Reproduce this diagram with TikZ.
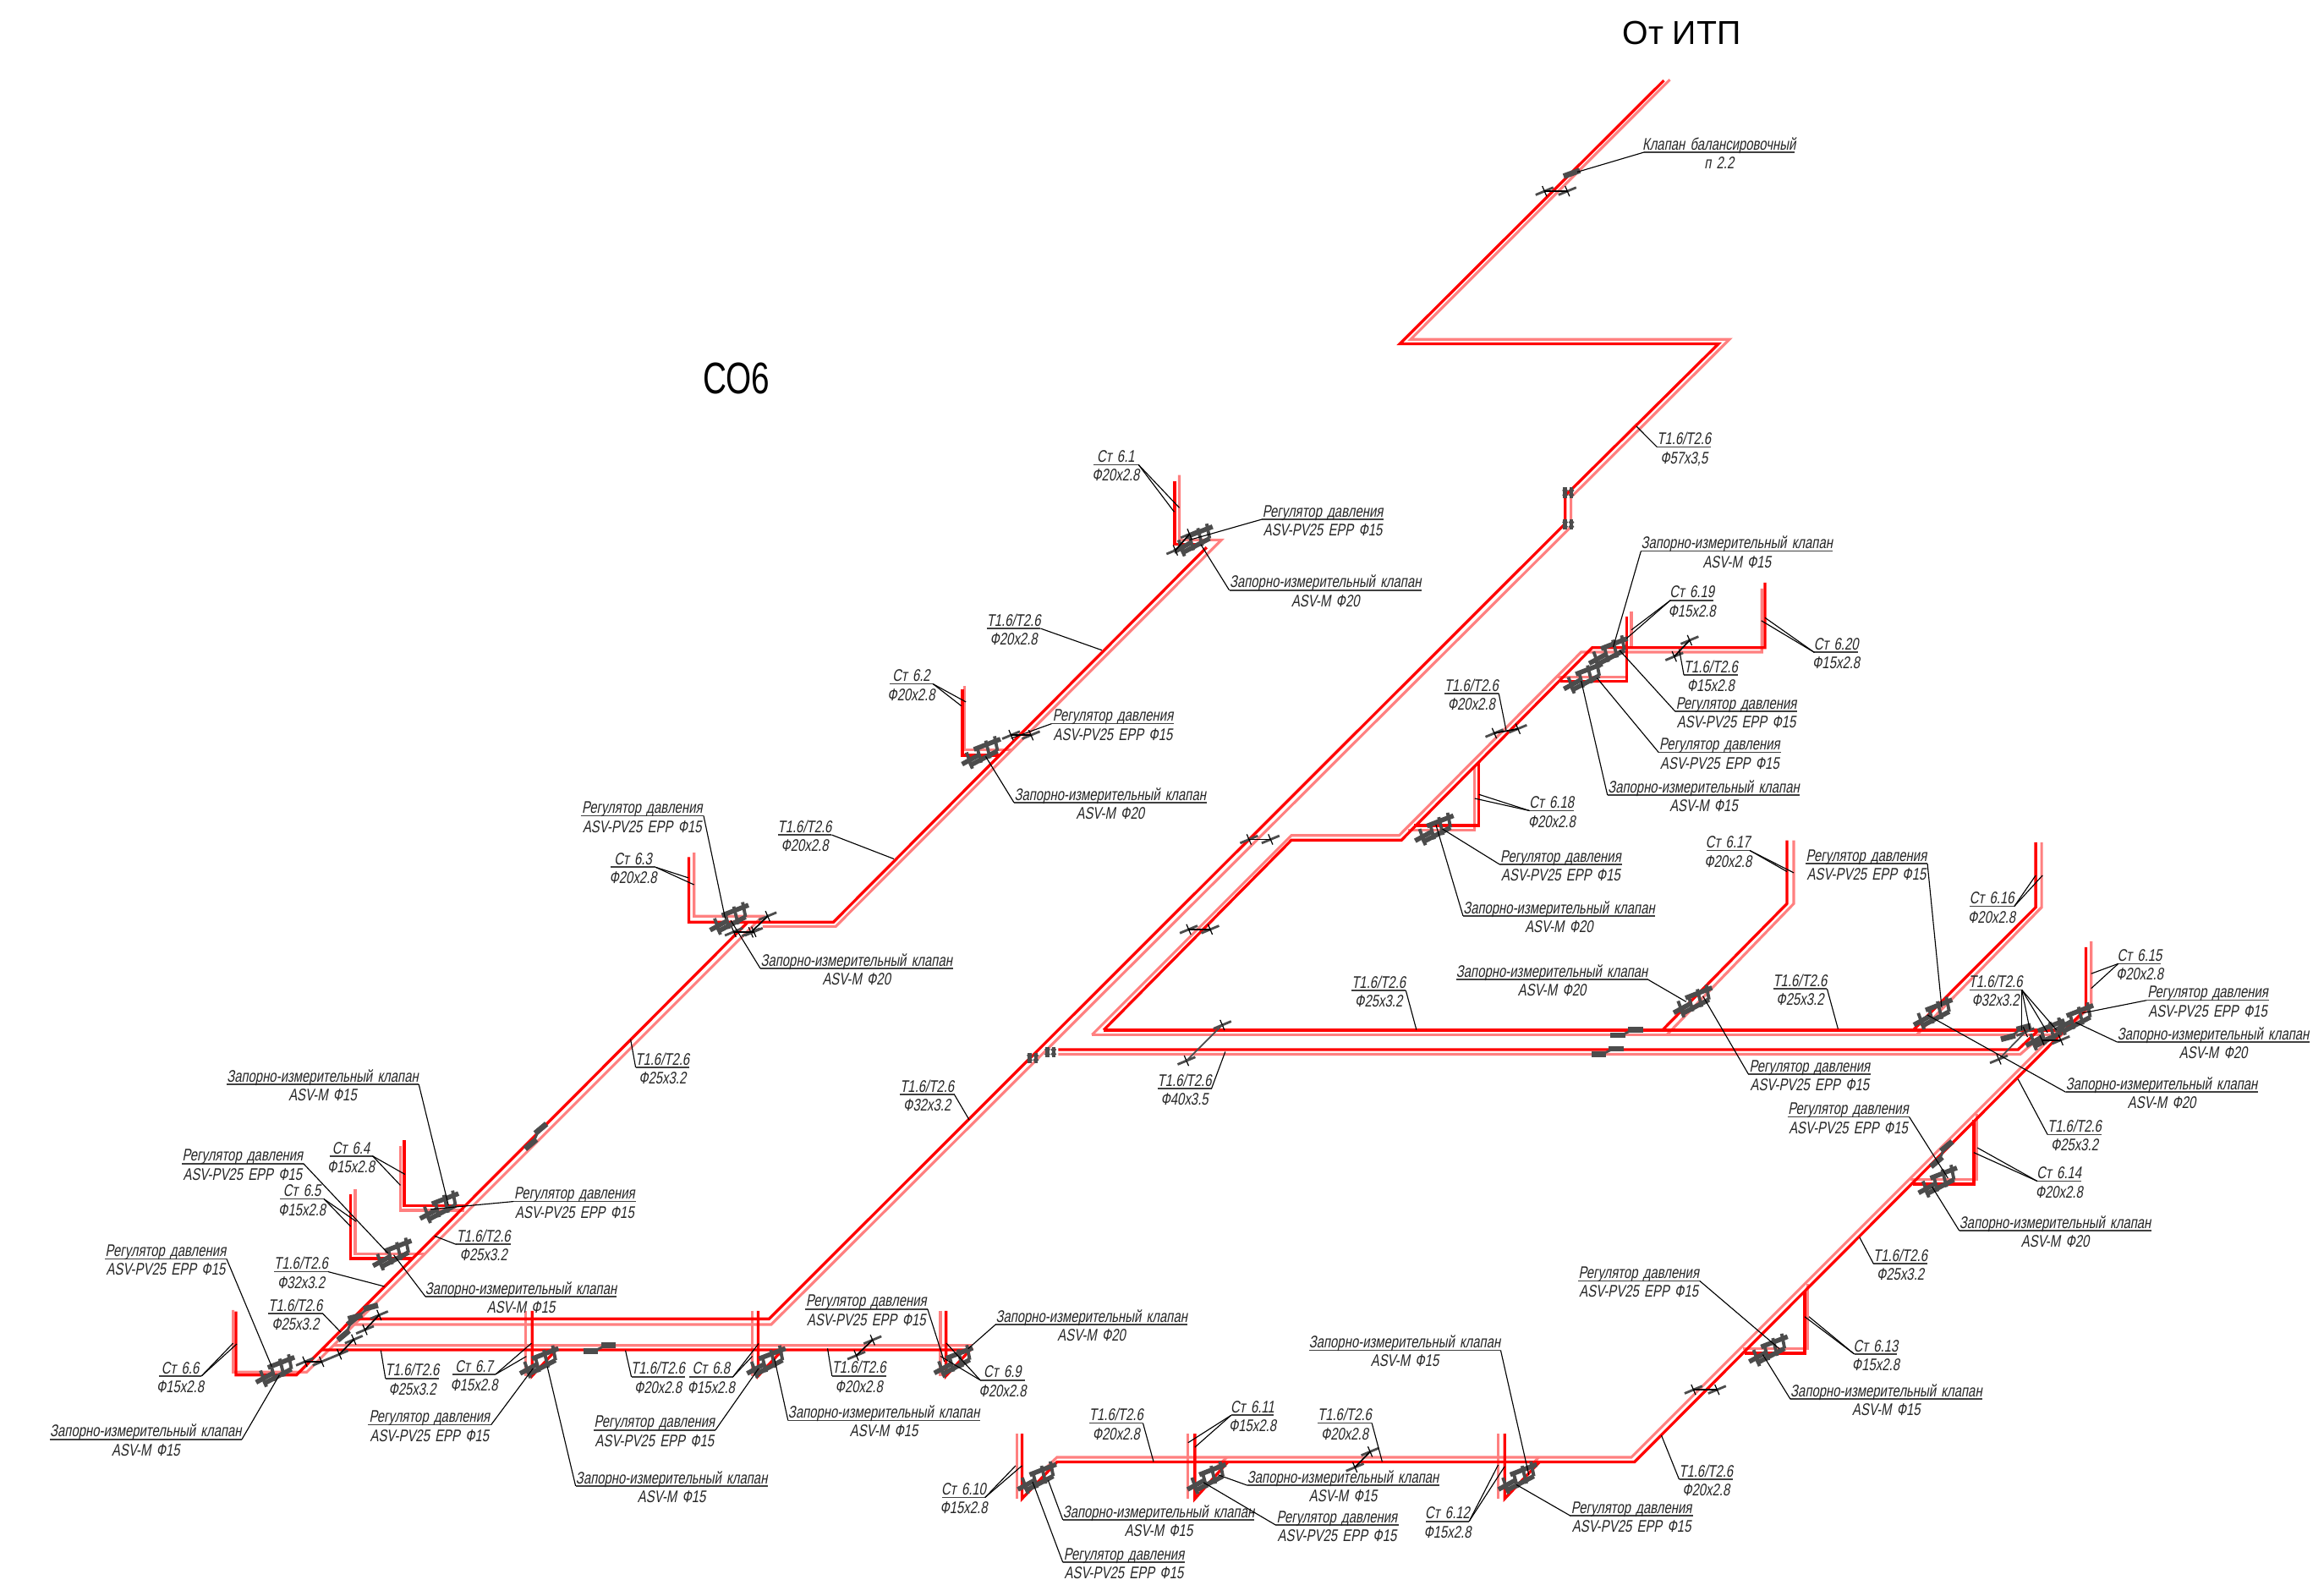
\documentclass[tikz,border=0pt]{standalone}
\usepackage{fontspec}
\setmainfont{Liberation Sans}
\newfontfamily\gostf[FakeSlant=0.18,FakeStretch=0.75,WordSpace=1.5]{Liberation Sans}
\newfontfamily\titlea[FakeStretch=1.0]{Liberation Sans}
\newfontfamily\titleb[FakeStretch=0.74]{Liberation Sans}
\definecolor{pipered}{HTML}{FF0000}
\definecolor{pipepink}{HTML}{FF8080}
\definecolor{valvegray}{HTML}{4C4C4C}
\tikzset{
  redpipe/.style={draw=pipered,line width=1.9pt,line join=miter},
  pinkpipe/.style={draw=pipepink,line width=1.8pt,line join=miter},
  lead/.style={draw=black,line width=0.65pt},
  rulenode/.style={inner sep=0pt,outer sep=0pt,minimum height=0pt},
  labeltext/.style={inner sep=0pt,anchor=base,font=\gostf\fontsize{11.4}{12}\selectfont,text=black!85},
  vg/.style={draw=valvegray,line width=3.2pt},
  vgt/.style={draw=valvegray,line width=2.2pt},
}
\newcommand{\txRD}{Регулятор давления}
\newcommand{\txRV}{ASV-PV25 EPP Ф15}
\newcommand{\txZK}{Запорно-измерительный клапан}
\newcommand{\txTT}{T1.6/T2.6}
% name, xl, xr, y, top, bottom
\newcommand{\LB}[6]{%
  \pgfmathsetmacro{\lbw}{#3-#2}\pgfmathsetmacro{\lbc}{(#2+#3)/2}\pgfmathsetmacro{\lby}{#4+1}%
  \node[rulenode,minimum width=\lbw pt] (#1) at (\lbc,\lby) {};
  \draw[lead,line width=0.95pt,black!75] (#1.west) -- (#1.east);
  \node[labeltext] (#1-t) at ([yshift=1.6pt]#1.center) {#5};
  \node[labeltext] (#1-b) at ([yshift=-11.2pt]#1.center) {#6};
}
\newcommand{\LD}[3]{\coordinate (ldend) at (#2,#3); \draw[lead] (#1) -- (ldend);}
% cluster valve
\newcommand{\VC}[3][0]{\begin{scope}[shift={(#2,#3)},rotate=#1]
  \draw[vg] (-14,8)--(-3,2);\draw[vg] (-6,-2)--(12,-9);\draw[vg] (-9,9)--(10,-1);
  \draw[vgt] (-11,0)--(-7,11);\draw[vgt] (-4,-4)--(-1,7);\draw[vgt] (2,-8)--(5,4);\draw[vgt] (8,-11)--(10,-1);
\end{scope}}
% bar valve
\newcommand{\VB}[3][0]{\begin{scope}[shift={(#2,#3)},rotate=#1]
  \draw[draw=valvegray,line width=3.8pt] (-11,2.2)--(-1,2.2);\draw[draw=valvegray,line width=3.8pt] (1,-1.5)--(11,-1.5);
  \draw[draw=valvegray,line width=1.6pt] (-3,2)--(3,-1);
\end{scope}}
% flange pair
\newcommand{\FL}[2]{\begin{scope}[shift={(#1,#2)}]
  \draw[draw=valvegray,line width=2.6pt] (-2,-3.5)--(-2,3.5);\draw[draw=valvegray,line width=2.6pt] (2.2,-3.5)--(2.2,3.5);
  \draw[draw=valvegray,line width=1.2pt] (-3.5,-2)--(-.5,2);\draw[draw=valvegray,line width=1.2pt] (-.5,-2)--(-3.5,2);
  \draw[draw=valvegray,line width=1.2pt] (.7,-2)--(3.7,2);\draw[draw=valvegray,line width=1.2pt] (3.7,-2)--(.7,2);
\end{scope}}
% cross mark: ax ay bx by linkcolor
\newcommand{\XM}[5][black]{%
  \draw[draw=valvegray,line width=1.6pt] (#2-6,#3+2.5)--(#2+6,#3-2.5);
  \draw[draw=valvegray,line width=1.6pt] (#4-6,#5+2.5)--(#4+6,#5-2.5);
  \draw[black,line width=.7pt] (#2-1.5,#3-3.5)--(#2+1.5,#3+3.5);
  \draw[black,line width=.7pt] (#4-1.5,#5-3.5)--(#4+1.5,#5+3.5);
  \draw[draw=#1,line width=1pt] (#2,#3)--(#4,#5);
}
\begin{document}
\begin{tikzpicture}[x=1pt,y=-1pt]
\useasboundingbox (0,0) rectangle (1568,1081.8);
\fill[white] (0,0) rectangle (1568,1081.8);

% ---------- pink pipes
\draw[pinkpipe] (1132,54) -- (956.3,230) -- (1172.4,230) -- (1065,337) -- (1065,357) -- (522.8,897.8) -- (240,897.8);
\draw[pinkpipe] (158,888) -- (158,930) -- (208,930) -- (517,621) -- (470.5,621) -- (470.5,578);
\draw[pinkpipe] (517,628) -- (566.5,628) -- (828,366) -- (799.5,366) -- (799.5,322);
\draw[pinkpipe] (654,465) -- (654,508) -- (686,508);
\draw[pinkpipe] (271.4,777) -- (271.4,820.4) -- (315,820.4);
\draw[pinkpipe] (240.8,806) -- (240.8,850) -- (288,850);
\draw[pinkpipe] (226,912) -- (657.7,912) -- (653,917);
\draw[pinkpipe] (356.5,888.6) -- (356.5,932.6);
\draw[pinkpipe] (377,912) -- (373,916);
\draw[pinkpipe] (510,888.6) -- (510,932.6);
\draw[pinkpipe] (531.6,912) -- (528,916);
\draw[pinkpipe] (637.5,888.6) -- (637.5,932.6);
\draw[pinkpipe] (689.2,971.8) -- (689.2,1015.9);
\draw[pinkpipe] (707,997) -- (716.5,987.8) -- (1105.9,987.8) -- (1394,699.7);
\draw[pinkpipe] (805.4,971.8) -- (805.4,1015.9);
\draw[pinkpipe] (831.7,987.8) -- (822,997);
\draw[pinkpipe] (1015.6,971.8) -- (1015.6,1015.9);
\draw[pinkpipe] (1043,987.8) -- (1035,997);
\draw[pinkpipe] (1225.6,870) -- (1225.6,914.2) -- (1181.5,914.2);
\draw[pinkpipe] (1340,755) -- (1340,799.6) -- (1295,799.6);
\draw[pinkpipe] (1417.6,638) -- (1417.6,681.6) -- (1396,703);
\draw[pinkpipe] (740.3,701.4) -- (875.4,566.3) -- (948.5,566.3) -- (1071.9,442) -- (1194.3,442) -- (1194.3,399);
\draw[pinkpipe] (740.3,701.4) -- (1392,701.4);
\draw[pinkpipe] (717.4,714.6) -- (1369.6,714.6) -- (1384,702);
\draw[pinkpipe] (954.4,562.8) -- (999.7,562.8) -- (999.7,519.8);
\draw[pinkpipe] (1105.9,414.3) -- (1105.9,439);
\draw[pinkpipe] (1056,459) -- (1102.7,459);
\draw[pinkpipe] (1216,569.6) -- (1216,612.5) -- (1130,701.4);
\draw[pinkpipe] (1384,571) -- (1384,615) -- (1299.4,701.4);

% ---------- red pipes
\draw[redpipe] (1128,54.5) -- (949,233) -- (1165,233) -- (1061,336) -- (1061,355) -- (521.3,894) -- (241,894);
\draw[redpipe] (160,889) -- (160,932) -- (201,932) -- (507,625);
\draw[redpipe] (467,581) -- (467,625) -- (565,625) -- (818,371);
\draw[redpipe] (796.4,326) -- (796.4,369) -- (815,369);
\draw[redpipe] (652.5,467.5) -- (652.5,512) -- (677,512);
\draw[redpipe] (274,773) -- (274,817.3) -- (316,817.3);
\draw[redpipe] (237.7,809.4) -- (237.7,853) -- (280,853);
\draw[redpipe] (218,915) -- (657.7,915) -- (641.3,932.6) -- (641.3,888.6);
\draw[redpipe] (360.7,888.6) -- (360.7,932.6) -- (377,915);
\draw[redpipe] (514,888.6) -- (514,932.6) -- (530.5,915);
\draw[redpipe] (692.8,971.8) -- (692.8,1015.9) -- (716.5,991) -- (1108,991) -- (1414,684) -- (1414,642);
\draw[redpipe] (810,971.8) -- (810,1015.9) -- (832.3,991);
\draw[redpipe] (1020,971.8) -- (1020,1015.9) -- (1043.6,991);
\draw[redpipe] (1223.4,874.7) -- (1223.4,917.2) -- (1183,917.2);
\draw[redpipe] (1338,759) -- (1338,802.6) -- (1297,802.6);
\draw[redpipe] (748.2,698.2) -- (875.4,569.5) -- (950,569.5) -- (1079.4,439) -- (1196.5,439) -- (1196.5,395);
\draw[redpipe] (748.2,698.2) -- (1400,698.2);
\draw[redpipe] (717.4,711.5) -- (1368,711.5) -- (1382,698.2);
\draw[redpipe] (958.7,559.6) -- (1002.6,559.6) -- (1002.6,517);
\draw[redpipe] (1102.7,418) -- (1102.7,461.6) -- (1058,461.6);
\draw[redpipe] (1211.4,569.6) -- (1211.4,612.5) -- (1127,698.2);
\draw[redpipe] (1380,571) -- (1380,615) -- (1297,698.2);

% ---------- valves
\VC{187.6}{929} \VC{266.9}{850} \VC{298.8}{818}
\VC{366.6}{923} \VC{520.5}{923} \VC{647.4}{922.7}
\VC{704}{1001.6} \VC{819}{1001.6} \VC{1029.8}{1001.6}
\VC{1199.8}{915} \VC{1314.6}{800.6} \VC{1407}{690.5}
\VC{1311.4}{686.7} \VC{1148.6}{678.5} \VC{1091.3}{441.7}
\VC{1074.2}{459} \VC{973.3}{561.9} \VC{810}{366}
\VC{666.2}{510} \VC{495.4}{622.5} \VC{1387.5}{700.8}
\VB{1102.7}{699.5} \VB{1089.7}{712.3} \VB{406.5}{913.5}
\VB[40]{363}{770} \VB[40]{1316}{782} \VB[15]{1366.5}{699.5}
\VB[40]{236}{899.6} \VB[15]{246}{889}
\draw[draw=valvegray,line width=3.8pt] (1060,119.5) -- (1071,115.5);
\FL{1063}{334} \FL{1063}{355.5} \FL{700}{717} \FL{712}{713}

% ---------- cross marks
\XM{1047}{129.6}{1062.5}{129.6}
\XM{846.7}{569}{861.3}{569}
\XM{805.8}{630}{820.4}{630}
\XM[valvegray]{828.6}{694.8}{804.3}{719}
\XM{1145.4}{434}{1135}{445}
\XM{1013}{497}{1029}{494}
\XM{1148}{942}{1164}{942}
\XM{591.5}{908.3}{580.5}{918.8}
\XM{928.8}{984}{918.5}{994.6}
\XM{257}{891.4}{247.4}{901.4}
\XM{239.8}{908}{230}{918}
\XM{206.7}{923}{218}{923}
\XM{520.4}{621}{509}{632}
\XM{497.4}{631.6}{511}{631.6}
\XM{685.4}{498.3}{698.9}{498.3}
\XM{796.8}{373}{806.4}{362}
\XM{1384.2}{705}{1397}{705}
\XM[valvegray]{1373}{699.5}{1355}{718}

% ---------- labels and leaders
\LB{a1}{153.6}{283.9}{734}{\txZK}{ASV-M Ф15} \LD{a1.east}{304}{817}
\LB{a2}{123.3}{205.7}{787.7}{\txRD}{\txRV} \LD{a2.east}{263}{849.5}
\LB{a3}{223.4}{252.6}{782.6}{Ст 6.4}{Ф15x2.8} \LD{a3.east}{274.5}{796} \LD{a3.east}{271.4}{803.4}
\LB{a4}{190}{219.6}{811.7}{Ст 6.5}{Ф15x2.8} \LD{a4.east}{241.5}{828} \LD{a4.east}{237.7}{831.3}
\LB{a5}{348.2}{430.9}{813.4}{\txRD}{\txRV} \LD{a5.west}{291.9}{819.7}
\LB{a6}{309.2}{346.4}{842.5}{\txTT}{Ф25x3.2} \LD{a6.west}{294.6}{837.8}
\LB{a7}{185.9}{222.4}{861}{\txTT}{Ф32x3.2} \LD{a7.east}{260.6}{872}
\LB{a8}{288.4}{418}{877.9}{\txZK}{ASV-M Ф15} \LD{a8.west}{266.9}{850.6}
\LB{a9}{181.7}{218.9}{889.5}{\txTT}{Ф25x3.2} \LD{a9.east}{231}{903}
\LB{a10}{71.2}{153.6}{852.3}{\txRD}{\txRV} \LD{a10.east}{184.2}{926.3}
\LB{a11}{107.7}{136.6}{931.7}{Ст 6.6}{Ф15x2.8} \LD{a11.east}{158}{910.5} \LD{a11.east}{160.5}{911}
\LB{a12}{33.7}{164}{974.6}{\txZK}{ASV-M Ф15} \LD{a12.east}{189.4}{932}
\LB{a13}{261.3}{297.8}{933.3}{\txTT}{Ф25x3.2} \LD{a13.west}{258.2}{915.4}
\LB{a14}{306.8}{336}{930.5}{Ст 6.7}{Ф15x2.8} \LD{a14.east}{360.3}{910.5} \LD{a14.east}{356.8}{919.4}
\LB{a15}{249.5}{332.9}{964.8}{\txRD}{\txRV} \LD{a15.east}{361.4}{927.5}
\LB{a16}{428}{464.2}{932.2}{\txTT}{Ф20x2.8} \LD{a16.west}{424}{915.4}
\LB{a17}{467.3}{496.9}{932.2}{Ст 6.8}{Ф15x2.8} \LD{a17.east}{514.3}{910.7} \LD{a17.east}{510}{919.3}
\LB{a18}{402.4}{485}{968.3}{\txRD}{\txRV} \LD{a18.east}{514.3}{927.5}
\LB{a19}{390.2}{520.5}{1006.2}{\txZK}{ASV-M Ф15} \LD{a19.west}{371}{926.3}
\LB{a20}{534.2}{664.3}{961.8}{\txZK}{ASV-M Ф15} \LD{a20.west}{525}{921}
\LB{a21}{545.8}{628.8}{886.3}{\txRD}{\txRV} \LD{a21.east}{640.2}{923}
\LB{a22}{564}{600.7}{931.6}{\txTT}{Ф20x2.8} \LD{a22.west}{561}{914}
\LB{a23}{664.5}{694.8}{934.5}{Ст 6.9}{Ф20x2.8} \LD{a23.west}{641.5}{910.4} \LD{a23.west}{637.5}{919.3}
\LB{a24}{675}{805}{896.7}{\txZK}{ASV-M Ф20} \LD{a24.west}{656.3}{914.2}
\LB{a25}{638.9}{667.8}{1014}{Ст 6.10}{Ф15x2.8} \LD{a25.east}{692.8}{993.5} \LD{a25.east}{688.5}{993.5}
\LB{a26}{720.5}{850.4}{1029.2}{\txZK}{ASV-M Ф15} \LD{a26.west}{710.6}{1003.5}
\LB{a27}{720.5}{803.4}{1058}{\txRD}{\txRV} \LD{a27.west}{700}{1004.5}
\LB{a28}{738.6}{774.8}{963.6}{\txTT}{Ф20x2.8} \LD{a28.east}{782}{990.8}
\LB{a29}{834.6}{863.6}{958.3}{Ст 6.11}{Ф15x2.8} \LD{a29.west}{805.4}{977.9} \LD{a29.west}{810}{981}
\LB{a30}{893.2}{930}{963.6}{\txTT}{Ф20x2.8} \LD{a30.east}{937}{990.8}
\LB{a31}{845.5}{975.5}{1005.8}{\txZK}{ASV-M Ф15} \LD{a31.west}{825.8}{999.7}
\LB{a32}{864.6}{948.2}{1032.6}{\txRD}{\txRV} \LD{a32.west}{815.9}{1004.9}
\LB{a33}{966.6}{995.9}{1030.2}{Ст 6.12}{Ф15x2.8} \LD{a33.east}{1015.6}{993} \LD{a33.east}{1020}{994}
\LB{a34}{887.3}{1017.3}{914.2}{\txZK}{ASV-M Ф15} \LD{a34.east}{1036.4}{999.7}
\LB{a35}{1064.3}{1147.8}{1026.3}{\txRD}{\txRV} \LD{a35.west}{1028}{1006.4}
\LB{a36}{1138.3}{1174.8}{1001.8}{\txTT}{Ф20x2.8} \LD{a36.west}{1126.3}{973}
\LB{a37}{1257}{1286.2}{916.8}{Ст 6.13}{Ф15x2.8} \LD{a37.west}{1223.4}{892.5} \LD{a37.west}{1226.3}{892.5}
\LB{a38}{1213.7}{1343.8}{947.4}{\txZK}{ASV-M Ф15} \LD{a38.west}{1195}{918.2}
\LB{a39}{1069.7}{1152.2}{867.2}{\txRD}{\txRV} \LD{a39.east}{1206.2}{914.2}
\LB{a40}{1270}{1306.6}{855.5}{\txTT}{Ф25x3.2} \LD{a40.west}{1260.6}{838.7}
\LB{a41}{1381}{1410.8}{799.6}{Ст 6.14}{Ф20x2.8} \LD{a41.west}{1338}{781.2} \LD{a41.west}{1340.5}{778}
\LB{a42}{1328.2}{1458.3}{833.2}{\txZK}{ASV-M Ф20} \LD{a42.west}{1309.8}{804.5}
\LB{a43}{1211.7}{1294.3}{756.1}{\txRD}{\txRV} \LD{a43.east}{1320.5}{798.6}
\LB{a44}{1388}{1424.7}{768}{\txTT}{Ф25x3.2} \LD{a44.west}{1368}{731.4}
\LB{a45}{1400.4}{1530.5}{739.3}{\txZK}{ASV-M Ф20} \LD{a45.west}{1306.6}{688}
\LB{a46}{1185.2}{1268.4}{727}{\txRD}{\txRV} \LD{a46.west}{1154.4}{675.2}
\LB{a47}{987}{1117.2}{663}{\txZK}{ASV-M Ф20} \LD{a47.east}{1143}{679}
\LB{a48}{1202}{1238.6}{669.3}{\txTT}{Ф25x3.2} \LD{a48.east}{1246}{697.4}
\LB{a49}{1224}{1306.6}{584.4}{\txRD}{\txRV} \LD{a49.east}{1316.3}{683}
\LB{a50}{1156.7}{1186.2}{575.5}{Ст 6.17}{Ф20x2.8} \LD{a50.east}{1211.4}{590.8} \LD{a50.east}{1216}{591.6}
\LB{a51}{1335}{1365.5}{613.3}{Ст 6.16}{Ф20x2.8} \LD{a51.east}{1380}{593.4} \LD{a51.east}{1384.6}{593.4}
\LB{a52}{1335}{1370.6}{670}{\txTT}{Ф32x3.2} \LD{a52.east}{1370.6}{698} \LD{a52.east}{1376}{698} \LD{a52.east}{1388}{700} \LD{a52.east}{1394}{698}
\LB{a53}{1436}{1465}{652.2}{Ст 6.15}{Ф20x2.8} \LD{a53.west}{1417.6}{660} \LD{a53.west}{1417.6}{670}
\LB{a54}{1455.4}{1538}{677}{\txRD}{\txRV} \LD{a54.west}{1411.7}{686.7}
\LB{a55}{1435.4}{1565.5}{705.4}{\txZK}{ASV-M Ф20} \LD{a55.west}{1407}{693}
\LB{a56}{1112.4}{1242.5}{372.6}{\txZK}{ASV-M Ф15} \LD{a56.west}{1093.6}{438.6}
\LB{a57}{1132.4}{1161.6}{405.9}{Ст 6.19}{Ф15x2.8} \LD{a57.west}{1102.7}{432.7} \LD{a57.west}{1105.9}{427}
\LB{a58}{1229.9}{1259.6}{441.2}{Ст 6.20}{Ф15x2.8} \LD{a58.west}{1194}{420.7} \LD{a58.west}{1196.5}{418.7}
\LB{a59}{1141.5}{1178}{456.5}{\txTT}{Ф15x2.8} \LD{a59.west}{1138.3}{440}
\LB{a60}{1135.7}{1218.5}{481.3}{\txRD}{\txRV} \LD{a60.west}{1097.8}{440.7}
\LB{a61}{1124.4}{1207.2}{509}{\txRD}{\txRV} \LD{a61.west}{1082.6}{459.6}
\LB{a62}{1089.7}{1220.2}{537.9}{\txZK}{ASV-M Ф15} \LD{a62.west}{1071.9}{461.6}
\LB{a63}{979}{1016}{469}{\txTT}{Ф20x2.8} \LD{a63.east}{1021}{495}
\LB{a64}{1036.8}{1067}{548.5}{Ст 6.18}{Ф20x2.8} \LD{a64.west}{1002.6}{538.5} \LD{a64.west}{999.7}{541.2}
\LB{a65}{1016.4}{1099.7}{584.8}{\txRD}{\txRV} \LD{a65.west}{977.8}{561.9}
\LB{a66}{991.8}{1122}{619.8}{\txZK}{ASV-M Ф20} \LD{a66.west}{973.4}{559}
\LB{a67}{916.3}{953}{670.3}{\txTT}{Ф25x3.2} \LD{a67.east}{960.2}{698}
\LB{a68}{784.7}{821.3}{736.8}{\txTT}{Ф40x3.5} \LD{a68.east}{830.6}{712.9}
\LB{a69}{610}{647}{741}{\txTT}{Ф32x3.2} \LD{a69.east}{657}{759}
\LB{a70}{741.1}{771.8}{314}{Ст 6.1}{Ф20x2.8} \LD{a70.east}{799.5}{344.2} \LD{a70.east}{796}{347}
\LB{a71}{855.5}{938}{351}{\txRD}{\txRV} \LD{a71.west}{806.4}{366}
\LB{a72}{833.3}{963.8}{399}{\txZK}{ASV-M Ф20} \LD{a72.west}{814}{369}
\LB{a73}{669}{705.4}{425}{\txTT}{Ф20x2.8} \LD{a73.east}{746.9}{440.7}
\LB{a74}{603}{632.5}{462.6}{Ст 6.2}{Ф20x2.8} \LD{a74.east}{654.8}{475.8} \LD{a74.east}{651.7}{478.5}
\LB{a75}{713}{796}{489.5}{\txRD}{\txRV} \LD{a75.west}{685.4}{500.5}
\LB{a76}{687.4}{817.9}{543}{\txZK}{ASV-M Ф20} \LD{a76.west}{668.2}{512.8}
\LB{a77}{527.3}{563.8}{564.9}{\txTT}{Ф20x2.8} \LD{a77.east}{606}{582.2}
\LB{a78}{393.7}{477}{552}{\txRD}{\txRV} \LD{a78.east}{491.6}{622.5}
\LB{a79}{414}{444.4}{586.8}{Ст 6.3}{Ф20x2.8} \LD{a79.east}{466.6}{595} \LD{a79.east}{470.5}{599.7}
\LB{a80}{515.4}{645.9}{655.4}{\txZK}{ASV-M Ф20} \LD{a80.west}{495.4}{623.9}
\LB{a81}{430.9}{467.3}{722.5}{\txTT}{Ф25x3.2} \LD{a81.west}{427.5}{704.7}
\LB{a82}{1123.3}{1160}{302}{\txTT}{Ф57x3,5} \LD{a82.west}{1109.4}{289}
\LB{a83}{1114.5}{1216.3}{102.2}{Клапан балансировочный}{п 2.2} \LD{a83.west}{1069.2}{116.6}

\node[inner sep=0pt,anchor=base,font=\titlea\fontsize{22.5}{24}\selectfont] (titleitp) at (1140,30) {От ИТП};
\node[inner sep=0pt,anchor=base,font=\titleb\fontsize{30}{32}\selectfont] (titleco) at (499,267) {СО6};
\end{tikzpicture}
\end{document}
